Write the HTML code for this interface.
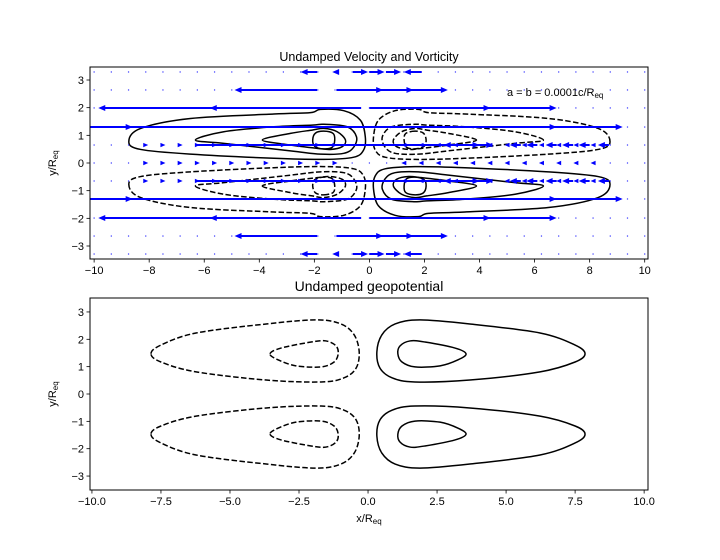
<!DOCTYPE html>
<html><head><meta charset="utf-8"><style>
body{margin:0;background:#fff;}
svg{display:block;font-family:"Liberation Sans","DejaVu Sans",sans-serif;}
</style></head><body>
<svg id="fig" width="720" height="560" viewBox="0 0 720 560">
<rect width="720" height="560" fill="#fff"/>
</svg>
<script>
// ---- data ----
const topXTicks = [-10,-8,-6,-4,-2,0,2,4,6,8,10];
const topXTickLabels = ["\u221210","\u22128","\u22126","\u22124","\u22122","0","2","4","6","8","10"];
const yTicks = [-3,-2,-1,0,1,2,3];
const yTickLabels = ["\u22123","\u22122","\u22121","0","1","2","3"];
const botXTicks = [-10,-7.5,-5,-2.5,0,2.5,5,7.5,10];
const botXTickLabels = ["\u221210.0","\u22127.5","\u22125.0","\u22122.5","0.0","2.5","5.0","7.5","10.0"];
// long quiver arrows (upper half; mirrored in y): row y, tail x, head x
const arrowY  = [3.29,3.29,3.29,3.29,3.29,3.29, 2.64,2.64,2.64,2.64, 1.99,1.99,1.99,1.99, 1.30,1.30,1.30, 0.65,0.65,0.65,0.65,0.65,0.65,0.65,0.65,0.65,0.65];
const arrowX0 = [-1.9,-1.1,-0.6,0.0,0.6,1.9, -1.9,-1.2,-0.6,0.0, -0.3,-1.2,0.0,0.6, -10.6,-6.0,-10.6, -6.3,-3.5,3.6,5.5,6.1,6.8,7.4,8.0,8.7];
const arrowX1 = [-2.5,-1.35,-0.05,0.55,1.15,1.25, -4.9,0.5,1.6,2.85, -9.85,-5.8,6.8,4.4, 9.2,6.8,-8.6, 4.5,4.0,2.7,5.1,5.7,6.4,7.0,7.6,8.3];
// vorticity contours, upper-left (positive) quadrant; others mirrored
const vortOuter = [[-8.74,0.77],[-8.31,1.25],[-6.5,1.61],[-3.47,1.77],[-2.14,1.82],[-1.78,1.94],[-0.93,1.89],[-0.33,1.55],[-0.15,0.95],[-0.21,0.47],[-0.57,0.21],[-1.66,0.13],[-3.47,0.17],[-6.5,0.32],[-8.31,0.49]];
const vortMid = [[-6.32,0.83],[-5.29,1.13],[-3.47,1.31],[-2.08,1.37],[-1.66,1.4],[-0.81,1.31],[-0.47,0.95],[-0.57,0.57],[-0.93,0.35],[-1.78,0.32],[-2.87,0.44],[-5.29,0.71]];
const vortInner = [[-3.89,0.83],[-2.87,1.07],[-2.08,1.19],[-1.66,1.25],[-1.17,1.13],[-0.87,0.83],[-0.99,0.59],[-1.42,0.49],[-1.9,0.53],[-2.87,0.65]];
const vortCore = [[-1.66,1.15],[-1.32,1.07],[-1.26,0.83],[-1.35,0.57],[-1.66,0.51],[-1.98,0.6],[-2.06,0.83],[-1.96,1.08]];
// geopotential contours, upper-right (positive) quadrant
const geoOuter = [[7.86,1.47],[7.5,1.79],[6.23,2.23],[3.69,2.56],[1.88,2.71],[0.98,2.56],[0.5,2.16],[0.32,1.54],[0.43,0.95],[0.87,0.59],[1.7,0.44],[3.69,0.51],[6.23,0.81],[7.5,1.17]];
const geoInner = [[3.55,1.47],[3.15,1.68],[2.06,1.9],[1.52,1.94],[1.16,1.76],[1.08,1.47],[1.23,1.17],[1.7,0.99],[2.61,1.03],[3.26,1.25]];

// ---- drawing ----
const NS="http://www.w3.org/2000/svg";
const svg=document.getElementById('fig');
function el(tag,attrs,parent){const e=document.createElementNS(NS,tag);for(const k in attrs)e.setAttribute(k,attrs[k]);(parent||svg).appendChild(e);return e;}
function axis(x0,x1,y0,y1,xmin,xmax,ymin,ymax){
  return {sx:v=>x0+(v-xmin)/(xmax-xmin)*(x1-x0), sy:v=>y1-(v-ymin)/(ymax-ymin)*(y1-y0), x0,x1,y0,y1};
}
const A=axis(90,648,67,259,-10.15,10.12,-3.47,3.47);
const B=axis(90,648,298,490,-10.07,10.14,-3.51,3.51);

function smoothPath(ax,pts){
  const p=pts.map(q=>[ax.sx(q[0]),ax.sy(q[1])]);const n=p.length;
  let d=`M${p[0][0].toFixed(2)},${p[0][1].toFixed(2)}`;
  for(let i=0;i<n;i++){
    const a=p[(i-1+n)%n],b=p[i],c=p[(i+1)%n],e=p[(i+2)%n];
    const c1=[b[0]+(c[0]-a[0])/6,b[1]+(c[1]-a[1])/6],c2=[c[0]-(e[0]-b[0])/6,c[1]-(e[1]-b[1])/6];
    d+=`C${c1[0].toFixed(2)},${c1[1].toFixed(2)} ${c2[0].toFixed(2)},${c2[1].toFixed(2)} ${c[0].toFixed(2)},${c[1].toFixed(2)}`;
  }
  return d+'Z';
}
function contour(g,ax,pts,dashed,name){
  const p=el('path',{d:smoothPath(ax,pts),fill:'none',stroke:'#000','stroke-width':1.5},g);
  if(dashed)p.setAttribute('stroke-dasharray','5.5,2.4');
  
  
}
function frame(ax,name){
  const r=el('rect',{x:ax.x0,y:ax.y0,width:ax.x1-ax.x0,height:ax.y1-ax.y0,fill:'none',stroke:'#000','stroke-width':1});
  
  
}
function ticks(ax,xt,xl,yt,yl,prefix){
  xt.forEach((v,i)=>{const x=ax.sx(v);
    el('line',{x1:x,x2:x,y1:ax.y1,y2:ax.y1+3.5,stroke:'#000','stroke-width':0.8});
    const t=el('text',{x:x,y:ax.y1+15,'font-size':11,'text-anchor':'middle',fill:'#000'});t.textContent=xl[i];
    
    });
  yt.forEach((v,i)=>{const y=ax.sy(v);
    el('line',{x1:ax.x0-3.5,x2:ax.x0,y1:y,y2:y,stroke:'#000','stroke-width':0.8});
    const t=el('text',{x:ax.x0-6,y:y+4,'font-size':11,'text-anchor':'end',fill:'#000'});t.textContent=yl[i];
    
    });
}
function mirrorSets(pts,fx,fy){return pts.map(q=>[q[0]*fx,q[1]*fy]);}

const defs=el('defs',{});
const cpA=el('clipPath',{id:'cA'},defs);el('rect',{x:A.x0,y:A.y0,width:A.x1-A.x0,height:A.y1-A.y0},cpA);
const cpB=el('clipPath',{id:'cB'},defs);el('rect',{x:B.x0,y:B.y0,width:B.x1-B.x0,height:B.y1-B.y0},cpB);

// ---- top plot ----
const gA=el('g',{'clip-path':'url(#cA)'});


const vortSets=[vortOuter,vortMid,vortInner,vortCore];
[[1,1,false,'solid'],[-1,1,true,'dashed'],[1,-1,true,'dashed'],[-1,-1,false,'solid']].forEach(([fx,fy,dash,k])=>{
  vortSets.forEach(s=>contour(gA,A,mirrorSets(s,fx,fy),dash,'vorticity-contour-'+k));
});
const rowsY=[3.29,2.64,1.99,1.30,0.65,0,-0.65,-1.30,-1.99,-2.64,-3.29];
for(let i=0;i<=32;i++){const xv=-10+i*0.625;
  rowsY.forEach(yv=>{
    const x=A.sx(xv),y=A.sy(yv);
    if(Math.abs(yv)<0.7 && Math.abs(xv)>0.8 && Math.abs(xv)<8.6){
      const dir=xv<0?1:-1;
      const h=el('path',{d:`M${x-dir*2.5},${y-2.2}L${x+dir*2.5},${y}L${x-dir*2.5},${y+2.2}Z`,fill:'#0000ff'},gA);
      
      
    } else {
      const c=el('rect',{x:x-0.6,y:y-0.6,width:1.2,height:1.2,fill:'#3333ff'},gA);
      
      
    }
  });
}
function arrow(xa,xb,yv){
  const x0=A.sx(xa),x1=A.sx(xb),y=A.sy(yv);const dir=x1>x0?1:-1;const hl=Math.min(7,Math.abs(x1-x0));
  const p=el('path',{d:`M${x0},${y-1}L${x1-dir*hl},${y-1}L${x1-dir*hl},${y-3}L${x1},${y}L${x1-dir*hl},${y+3}L${x1-dir*hl},${y+1}L${x0},${y+1}Z`,fill:'#0000ff'},gA);
  
  
}
arrowY.forEach((yv,i)=>{arrow(arrowX0[i],arrowX1[i],yv);arrow(arrowX0[i],arrowX1[i],-yv);});
frame(A,'top-axes-frame');
ticks(A,topXTicks,topXTickLabels,yTicks,yTickLabels,'top');
let t=el('text',{x:369,y:61,'font-size':12.5,'text-anchor':'middle'});t.textContent='Undamped Velocity and Vorticity';


t=el('text',{x:507,y:96,'font-size':11});t.innerHTML='a = b = 0.0001c/R<tspan font-size="8" dy="2">eq</tspan>';


t=el('text',{transform:'translate(56,163) rotate(-90)','font-size':11,'text-anchor':'middle'});t.innerHTML='y/R<tspan font-size="8" dy="2">eq</tspan>';



// ---- bottom plot ----
const gB=el('g',{'clip-path':'url(#cB)'});


[[1,1,false,'solid'],[-1,1,true,'dashed'],[1,-1,false,'solid'],[-1,-1,true,'dashed']].forEach(([fx,fy,dash,k])=>{
  [geoOuter,geoInner].forEach(s=>contour(gB,B,mirrorSets(s,fx,fy),dash,'geopotential-contour-'+k));
});
frame(B,'bottom-axes-frame');
ticks(B,botXTicks,botXTickLabels,yTicks,yTickLabels,'bottom');
t=el('text',{x:369,y:291,'font-size':14,'text-anchor':'middle'});t.textContent='Undamped geopotential';


t=el('text',{transform:'translate(56,394) rotate(-90)','font-size':11,'text-anchor':'middle'});t.innerHTML='y/R<tspan font-size="8" dy="2">eq</tspan>';


t=el('text',{x:369,y:522,'font-size':11,'text-anchor':'middle'});t.innerHTML='x/R<tspan font-size="8" dy="2">eq</tspan>';


</script>
</body></html>
